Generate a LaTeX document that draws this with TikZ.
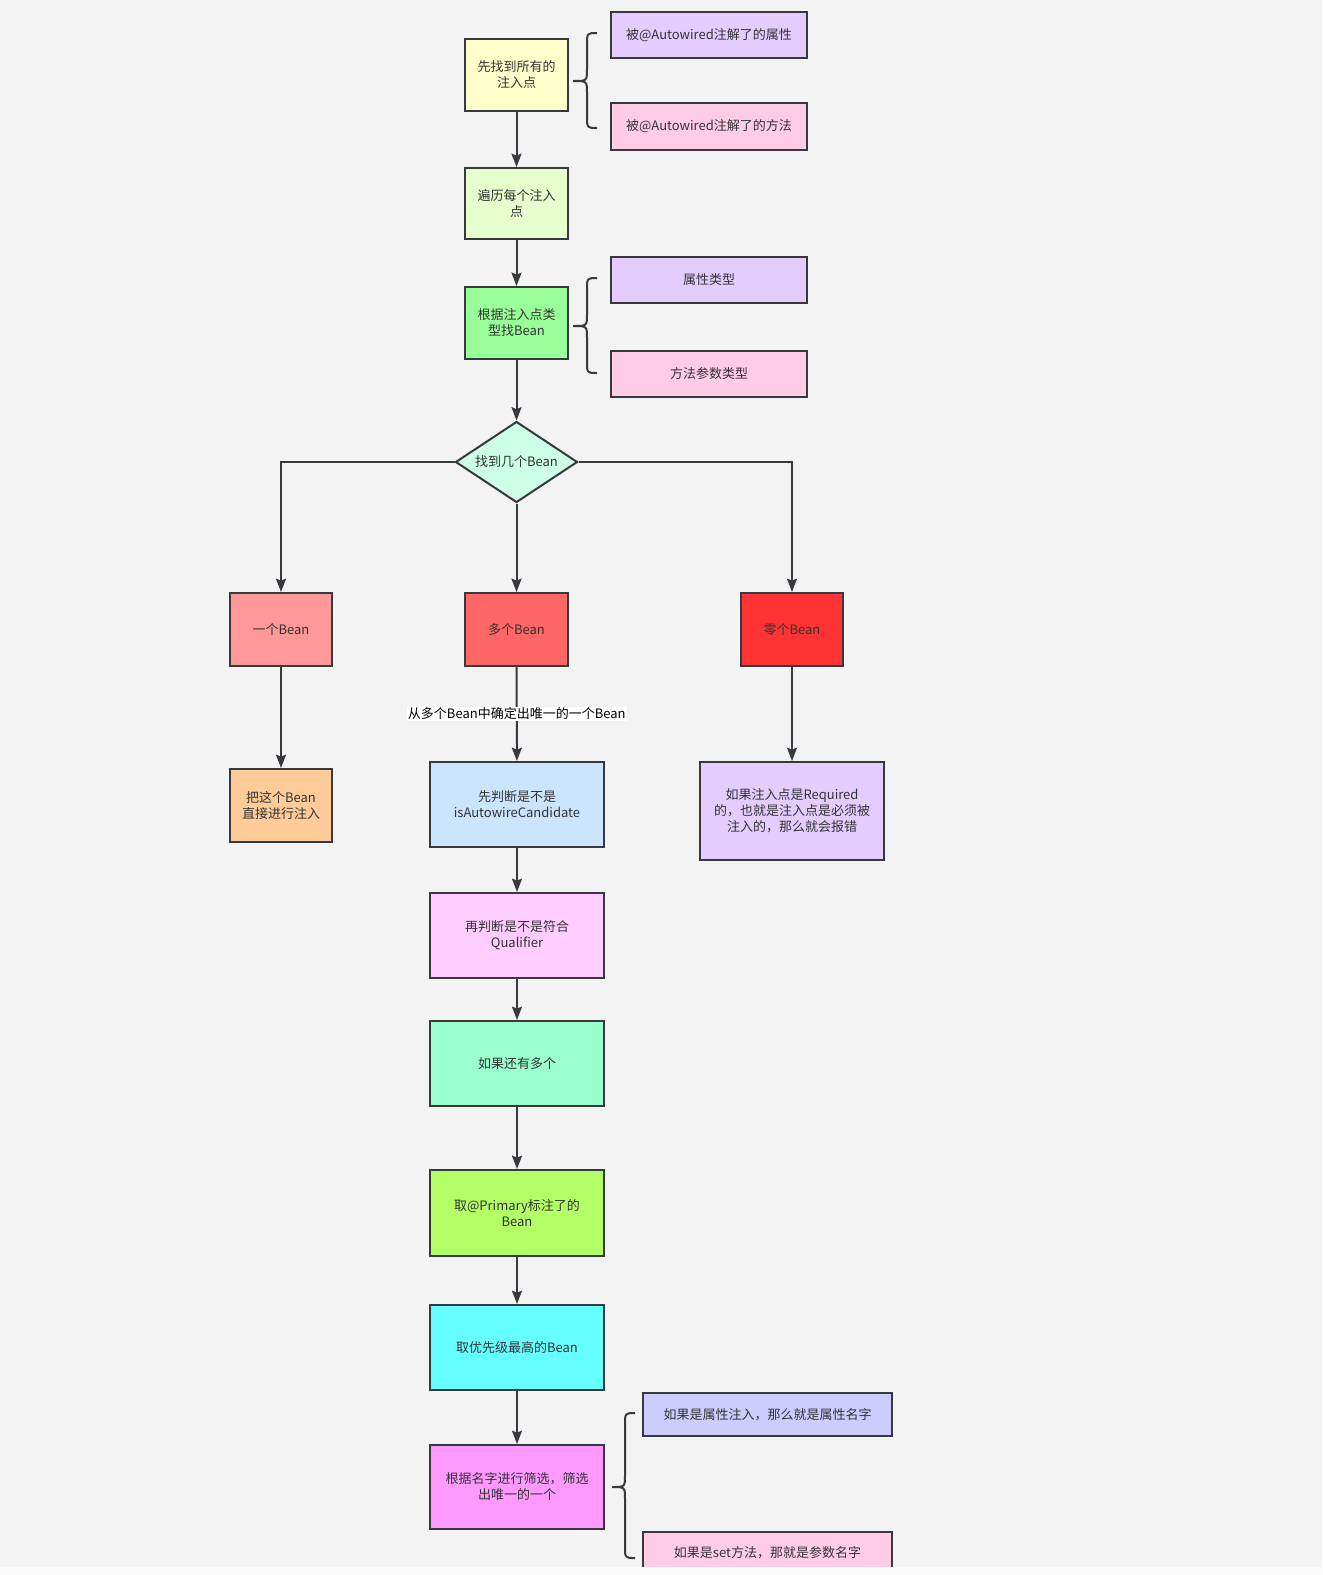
\documentclass[tikz,border=0pt]{standalone}
\usepackage{fontspec}
\setmainfont{Noto Sans CJK SC}
\usetikzlibrary{shapes.geometric,arrows.meta}
\definecolor{bg}{HTML}{F3F3F3}
\definecolor{strip}{HTML}{FAFAFA}
\definecolor{ln}{HTML}{36393D}
\definecolor{tx}{HTML}{333333}
\definecolor{cYellow}{HTML}{FFFFCC}
\definecolor{cLime}{HTML}{E6FFCC}
\definecolor{cGreen}{HTML}{99FF99}
\definecolor{cMint}{HTML}{CCFFE6}
\definecolor{cRedA}{HTML}{FF9999}
\definecolor{cRedB}{HTML}{FF6666}
\definecolor{cRedC}{HTML}{FF3333}
\definecolor{cOrange}{HTML}{FFCC99}
\definecolor{cBlue}{HTML}{CCE5FF}
\definecolor{cLilac}{HTML}{E5CCFF}
\definecolor{cPinkA}{HTML}{FFCCFF}
\definecolor{cAqua}{HTML}{99FFCC}
\definecolor{cChart}{HTML}{B3FF66}
\definecolor{cCyan}{HTML}{66FFFF}
\definecolor{cMag}{HTML}{FF99FF}
\definecolor{cPeri}{HTML}{CCCCFF}
\definecolor{cRose}{HTML}{FFCCE6}
\begin{document}
\begin{tikzpicture}[x=0.75pt,y=-0.75pt,
  every node/.style={font=\fontsize{9.75pt}{12pt}\selectfont, text=tx, align=center},
  box/.style={draw=ln, line width=1.5pt, rectangle, inner sep=1pt},
  wh/.style 2 args={minimum width=#1*0.75pt, minimum height=#2*0.75pt},
  arr/.style={draw=ln, line width=1.5pt, -{Stealth[length=10pt,width=7.5pt,inset=1.5pt]}},
  brc/.style={draw=ln, line width=1.5pt}]
\useasboundingbox (0,0) rectangle (1322,1575);
\fill[bg] (0,0) rectangle (1322,1575);

% main column
\node[box,wh={103}{72},fill=cYellow] (n1) at (516.5,75) {先找到所有的\\注入点};
\node[box,wh={103}{71},fill=cLime] (n2) at (516.5,203.5) {遍历每个注入\\点};
\node[box,wh={103}{72},fill=cGreen] (n3) at (516.5,323) {根据注入点类\\型找Bean};
\node[diamond,aspect=1.5,draw=ln,line width=1.5pt,fill=cMint,inner sep=0pt,wh={122}{81}] (d) at (516.5,462) {找到几个Bean};

\node[box,wh={102}{73},fill=cRedA] (one) at (281,629.5) {一个Bean};
\node[box,wh={103}{73},fill=cRedB] (many) at (516.5,629.5) {多个Bean};
\node[box,wh={102}{73},fill=cRedC] (zero) at (792,629.5) {零个Bean};

\node[box,wh={102}{73},fill=cOrange] (put) at (281,805.5) {把这个Bean\\直接进行注入};
\node[box,wh={174}{85},fill=cBlue] (judge) at (517,804.5) {先判断是不是\\isAutowireCandidate};
\node[box,wh={184}{98},fill=cLilac] (req) at (792,811) {如果注入点是Required\\的，也就是注入点是必须被\\注入的，那么就会报错};

\node[box,wh={174}{85},fill=cPinkA] (qual) at (517,935.5) {再判断是不是符合\\Qualifier};
\node[box,wh={174}{85},fill=cAqua] (still) at (517,1063.5) {如果还有多个};
\node[box,wh={174}{86},fill=cChart] (prim) at (517,1213) {取@Primary标注了的\\Bean};
\node[box,wh={174}{85},fill=cCyan] (prio) at (517,1347.5) {取优先级最高的Bean};
\node[box,wh={174}{84},fill=cMag] (name) at (517,1487) {根据名字进行筛选，筛选\\出唯一的一个};

% side notes
\node[box,wh={196}{46},fill=cLilac] (a1) at (709,35) {被@Autowired注解了的属性};
\node[box,wh={196}{47},fill=cRose] (a2) at (709,126.5) {被@Autowired注解了的方法};
\node[box,wh={196}{46},fill=cLilac] (b1) at (709,280) {属性类型};
\node[box,wh={196}{46},fill=cRose] (b2) at (709,374) {方法参数类型};
\node[box,wh={249}{43},fill=cPeri] (c1) at (767.5,1414.5) {如果是属性注入，那么就是属性名字};
\node[box,wh={249}{43},fill=cRose] (c2) at (767.5,1553) {如果是set方法，那就是参数名字};

% braces
\draw[brc] (597,33) .. controls (587,33) .. (587,45) -- (587,69) .. controls (587,81) .. (573,81)
           .. controls (587,81) .. (587,93) -- (587,116) .. controls (587,128) .. (597,128);
\draw[brc] (597,278) .. controls (587,278) .. (587,290) -- (587,314) .. controls (587,326) .. (573,326)
           .. controls (587,326) .. (587,338) -- (587,361) .. controls (587,373) .. (597,373);
\draw[brc] (635,1413) .. controls (625,1413) .. (625,1425) -- (625,1475) .. controls (625,1487) .. (612,1487)
           .. controls (625,1487) .. (625,1499) -- (625,1546) .. controls (625,1558) .. (635,1558);

% connectors
\draw[arr] (n1) -- (n2);
\draw[arr] (n2) -- (n3);
\draw[arr] (n3) -- (d);
\draw[arr] (d) -- (many);
\draw[arr] (d.west) -| (one.north);
\draw[arr] (d.east) -| (zero.north);
\draw[arr] (one) -- (put);
\draw[arr] (zero) -- (req);
\draw[arr] (many) -- (judge) node[midway,fill=white,text=black,inner sep=1pt] (lbl) {从多个Bean中确定出唯一的一个Bean};
\draw[arr] (judge) -- (qual);
\draw[arr] (qual) -- (still);
\draw[arr] (still) -- (prim);
\draw[arr] (prim) -- (prio);
\draw[arr] (prio) -- (name);

\fill[strip] (0,1567) rectangle (1322,1575);
\end{tikzpicture}
\end{document}
